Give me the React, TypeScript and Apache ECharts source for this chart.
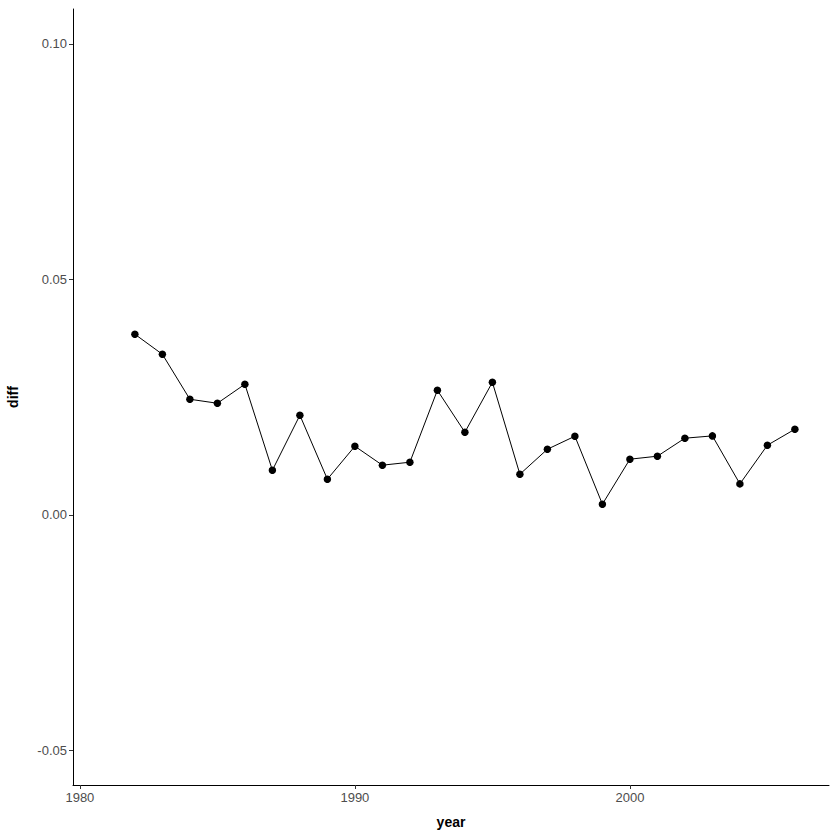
import React, { useEffect, useRef } from "react";
import * as echarts from "echarts";

const years = [1982, 1983, 1984, 1985, 1986, 1987, 1988, 1989, 1990, 1991, 1992, 1993, 1994, 1995, 1996, 1997, 1998, 1999, 2000, 2001, 2002, 2003, 2004, 2005, 2006];
const diffs = [0.03836, 0.0341, 0.02455, 0.0237, 0.02774, 0.00948, 0.02116, 0.00757, 0.01458, 0.01055, 0.01118, 0.02646, 0.01755, 0.02816, 0.00863, 0.01394, 0.0167, 0.00227, 0.01182, 0.01246, 0.01628, 0.01677, 0.00658, 0.01479, 0.01819];
const xTicks = [1980, 1990, 2000];
const yTicks = [-0.05, 0, 0.05, 0.1];

export default function App() {
  const ref = useRef<HTMLDivElement>(null);
  useEffect(() => {
    if (!ref.current) return;
    const chart = echarts.init(ref.current, null, { renderer: "svg" });
    const font = "Liberation Sans, Arial, sans-serif";
    chart.setOption({
      animation: false,
      backgroundColor: "#ffffff",
      grid: { left: 73, right: 11, top: 9, bottom: 55, containLabel: false, outerBoundsMode: "none" },
      xAxis: {
        type: "value",
        min: 1979.75,
        max: 2007.24,
        name: "year",
        nameLocation: "middle",
        nameGap: 30,
        nameTextStyle: { color: "#000000", fontSize: 14, fontWeight: "bold", fontFamily: font },
        axisLine: { show: true, onZero: false, lineStyle: { color: "#000000", width: 1 } },
        axisTick: { show: true, length: 4, customValues: xTicks, lineStyle: { color: "#333333" } },
        axisLabel: {
          customValues: xTicks,
          color: "#4D4D4D",
          fontSize: 13,
          fontFamily: font,
          margin: 6,
          formatter: (v: number) => String(Math.round(v)),
        },
        splitLine: { show: false },
      },
      yAxis: {
        type: "value",
        min: -0.05737,
        max: 0.10743,
        name: "diff",
        nameLocation: "middle",
        nameGap: 53,
        nameRotate: 90,
        nameTextStyle: { color: "#000000", fontSize: 14, fontWeight: "bold", fontFamily: font },
        axisLine: { show: true, onZero: false, lineStyle: { color: "#000000", width: 1 } },
        axisTick: { show: true, length: 4, customValues: yTicks, lineStyle: { color: "#333333" } },
        axisLabel: {
          customValues: yTicks,
          color: "#4D4D4D",
          fontSize: 13,
          fontFamily: font,
          margin: 6,
          formatter: (v: number) => v.toFixed(2),
        },
        splitLine: { show: false },
      },
      series: [
        {
          type: "line",
          data: years.map((y, i) => [y, diffs[i]]),
          symbol: "circle",
          symbolSize: 7.5,
          showSymbol: true,
          lineStyle: { color: "#000000", width: 1 },
          itemStyle: { color: "#000000" },
        },
      ],
    });
    return () => chart.dispose();
  }, []);
  return (
    <div
      ref={ref}
      style={{ position: "fixed", left: 0, top: 0, width: 840, height: 840 }}
    />
  );
}
